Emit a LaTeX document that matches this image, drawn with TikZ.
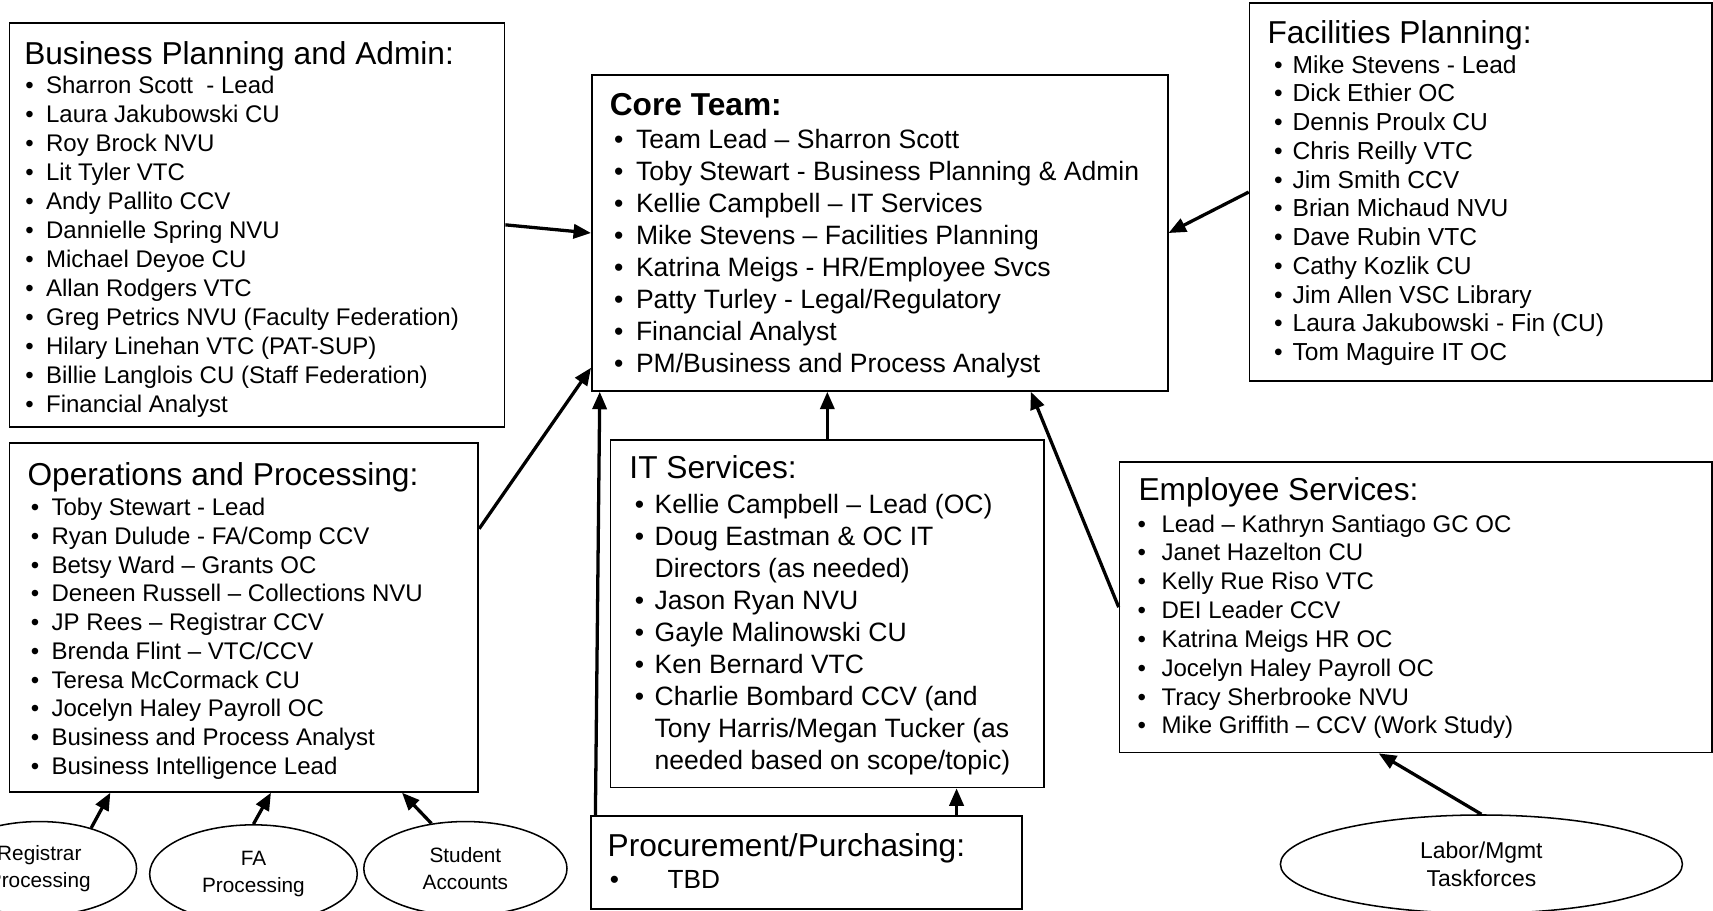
\documentclass[tikz,border=0pt]{standalone}
\usepackage{fontspec}
\setmainfont{Liberation Sans}
\usetikzlibrary{arrows.meta,shapes.geometric,calc}
\begin{document}
\begin{tikzpicture}[x=1pt,y=-1pt,
  box/.style={draw, line width=1.6pt, inner sep=0pt, anchor=north west},
  hd/.style={anchor=base west, inner sep=0pt, font=\fontsize{29}{34}\selectfont},
  lstA/.style={anchor=base west, inner sep=0pt, font=\fontsize{22}{26.4}\selectfont},
  lstB/.style={anchor=base west, inner sep=0pt, font=\fontsize{24.3}{29.3}\selectfont},
  ell/.style={ellipse, draw, line width=1.4pt, inner sep=0pt, align=center, font=\fontsize{19}{24}\selectfont},
  arr/.style={line width=3pt, -{Triangle[length=16pt,width=13pt]}}]
\useasboundingbox (0,0) rectangle (1568,833);

% Business Planning and Admin
\node[box, minimum width=453, minimum height=370] (bpa) at (8,20) {};
\node[hd] (bpaH) at (22,59) {Business Planning and Admin:};
\node[lstA, font=\fontsize{22}{26.5}\selectfont] (bpaL) at (23,86) {\begin{tabular}[t]{@{}p{19pt}@{}l@{}}
•& Sharron Scott\ \ - Lead\\
•& Laura Jakubowski CU\\
•& Roy Brock NVU\\
•& Lit Tyler VTC\\
•& Andy Pallito CCV\\
•& Dannielle Spring NVU\\
•& Michael Deyoe CU\\
•& Allan Rodgers VTC\\
•& Greg Petrics NVU (Faculty Federation)\\
•& Hilary Linehan VTC (PAT-SUP)\\
•& Billie Langlois CU (Staff Federation)\\
•& Financial Analyst
\end{tabular}};

% Core Team
\node[box, minimum width=527, minimum height=289] (core) at (541,68) {};
\node[hd, font=\fontsize{29}{34}\selectfont\bfseries] (coreH) at (558,106) {Core Team:};
\node[lstB] (coreL) at (562,136) {\begin{tabular}[t]{@{}p{20pt}@{}l@{}}
•& Team Lead – Sharron Scott\\
•& Toby Stewart - Business Planning \& Admin\\
•& Kellie Campbell – IT Services\\
•& Mike Stevens – Facilities Planning\\
•& Katrina Meigs - HR/Employee Svcs\\
•& Patty Turley - Legal/Regulatory\\
•& Financial Analyst\\
•& PM/Business and Process Analyst
\end{tabular}};

% Facilities Planning
\node[box, minimum width=423, minimum height=346] (fac) at (1143,2) {};
\node[hd] (facH) at (1160,40) {Facilities Planning:};
\node[lstA, font=\fontsize{22.5}{26.3}\selectfont] (facL) at (1166,67) {\begin{tabular}[t]{@{}p{17pt}@{}l@{}}
•& Mike Stevens - Lead\\
•& Dick Ethier OC\\
•& Dennis Proulx CU\\
•& Chris Reilly VTC\\
•& Jim Smith CCV\\
•& Brian Michaud NVU\\
•& Dave Rubin VTC\\
•& Cathy Kozlik CU\\
•& Jim Allen VSC Library\\
•& Laura Jakubowski - Fin (CU)\\
•& Tom Maguire IT OC
\end{tabular}};

% Operations and Processing
\node[box, minimum width=429, minimum height=319] (ops) at (8,405) {};
\node[hd] (opsH) at (25,444) {Operations and Processing:};
\node[lstA, font=\fontsize{22}{26.3}\selectfont] (opsL) at (28,472) {\begin{tabular}[t]{@{}p{19pt}@{}l@{}}
•& Toby Stewart - Lead\\
•& Ryan Dulude - FA/Comp CCV\\
•& Betsy Ward – Grants OC\\
•& Deneen Russell – Collections NVU\\
•& JP Rees – Registrar CCV\\
•& Brenda Flint – VTC/CCV\\
•& Teresa McCormack CU\\
•& Jocelyn Haley Payroll OC\\
•& Business and Process Analyst\\
•& Business Intelligence Lead
\end{tabular}};

% IT Services
\node[box, minimum width=397, minimum height=318] (it) at (558,402) {};
\node[hd] (itH) at (576,438) {IT Services:};
\node[lstB, font=\fontsize{24.3}{29.25}\selectfont] (itL) at (581,470) {\begin{tabular}[t]{@{}p{18pt}@{}l@{}}
•& Kellie Campbell – Lead (OC)\\
•& Doug Eastman \& OC IT\\
 & Directors (as needed)\\
•& Jason Ryan NVU\\
•& Gayle Malinowski CU\\
•& Ken Bernard VTC\\
•& Charlie Bombard CCV (and\\
 & Tony Harris/Megan Tucker (as\\
 & needed based on scope/topic)
\end{tabular}};

% Employee Services
\node[box, minimum width=542, minimum height=266] (emp) at (1024,422) {};
\node[hd] (empH) at (1042,458) {Employee Services:};
\node[lstA] (empL) at (1041,487) {\begin{tabular}[t]{@{}p{22pt}@{}l@{}}
•& Lead – Kathryn Santiago GC OC\\
•& Janet Hazelton CU\\
•& Kelly Rue Riso VTC\\
•& DEI Leader CCV\\
•& Katrina Meigs HR OC\\
•& Jocelyn Haley Payroll OC\\
•& Tracy Sherbrooke NVU\\
•& Mike Griffith – CCV (Work Study)
\end{tabular}};

% Procurement
\node[box, minimum width=395, minimum height=85] (proc) at (540,746) {};
\node[hd] (procH) at (556,784) {Procurement/Purchasing:};
\node[lstB, font=\fontsize{24}{29}\selectfont] (procL) at (558,813) {\begin{tabular}[t]{@{}p{53pt}@{}l@{}}
•& TBD
\end{tabular}};

% Ellipses
\node[ell, minimum width=178, minimum height=86] (reg) at (36,795) {Registrar\\Processing};
\node[ell, minimum width=190, minimum height=90] (fa) at (232,800) {FA\\Processing};
\node[ell, minimum width=186, minimum height=86] (stu) at (426,795) {Student\\Accounts};
\node[ell, minimum width=368, minimum height=90, font=\fontsize{21}{26}\selectfont] (lab) at (1356,791) {Labor/Mgmt\\Taskforces};

% Connectors
\draw[arr] (bpa.east) -- (core.west);
\draw[arr] ([yshift=-79pt]ops.north east) -- ([yshift=22pt]core.south west);
\draw[arr] ([xshift=5pt]proc.north west) -- ([xshift=8pt]core.south west);
\draw[arr] (it.north) -- (it.north |- core.south);
\draw[arr] (emp.west) -- ([xshift=-126pt]core.south east);
\draw[arr] (fac.west) -- (core.east);
\coordinate (p7) at ([xshift=-61pt]proc.north east);
\draw[arr] (p7) -- (p7 |- it.south);
\draw[arr] (reg.38) -- ([xshift=93pt]ops.south west);
\draw[arr] (fa.north) -- ([xshift=240pt]ops.south west);
\draw[arr] (stu.127) -- ([xshift=360pt]ops.south west);
\draw[arr] (lab.north) -- ([xshift=238pt]emp.south west);
\end{tikzpicture}
\end{document}
